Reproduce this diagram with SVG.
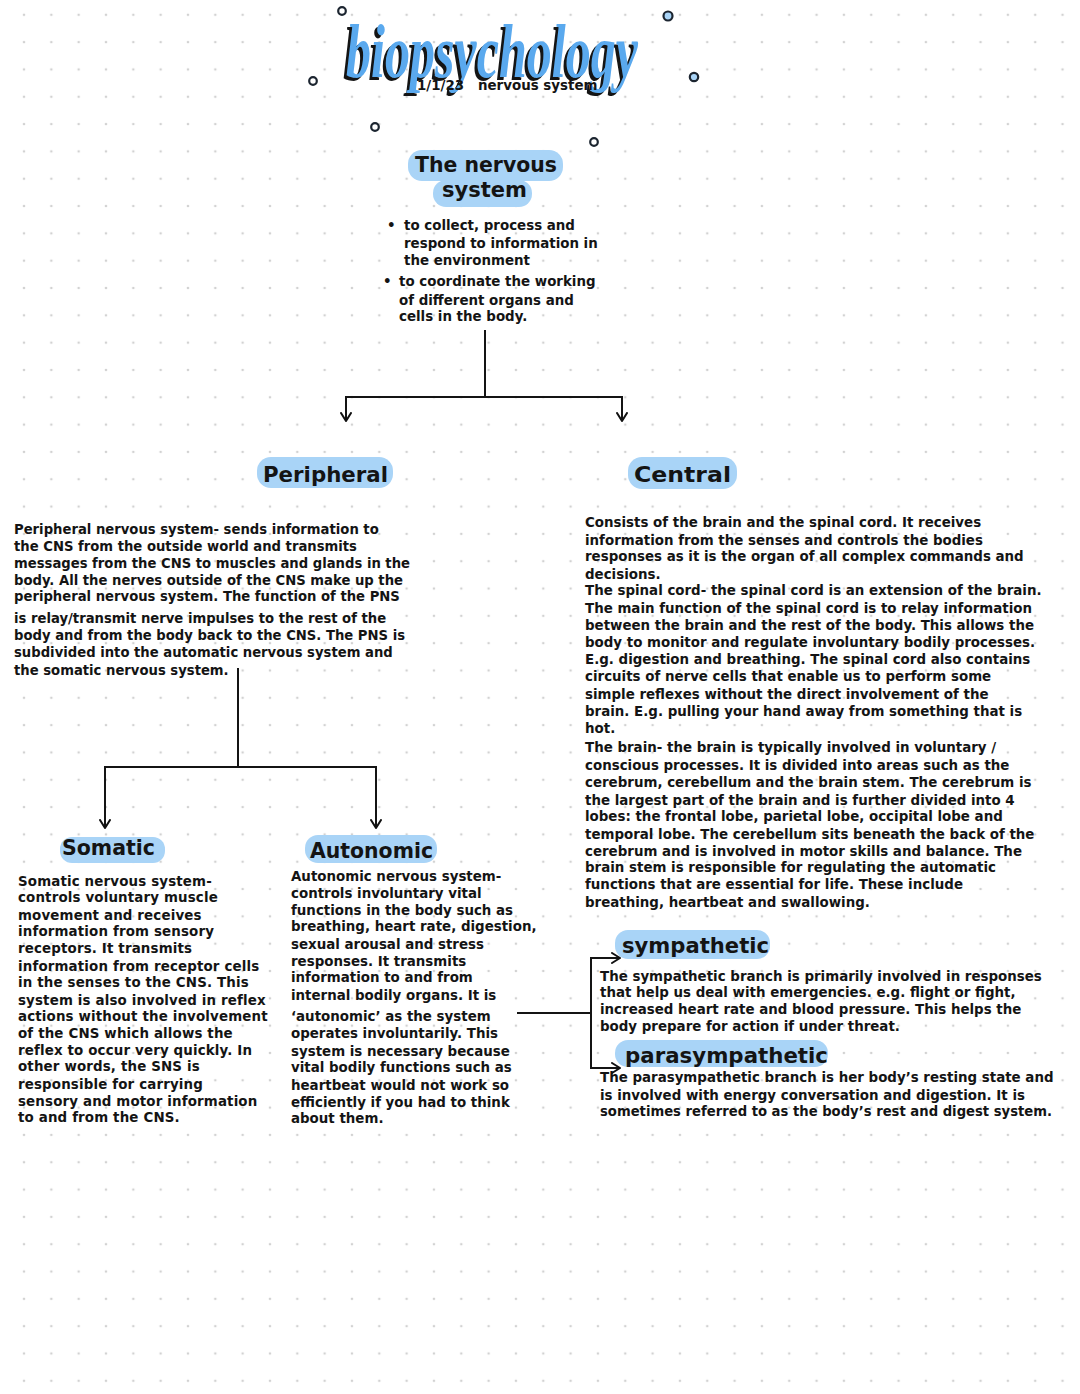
<svg xmlns="http://www.w3.org/2000/svg" width="1080" height="1394" viewBox="0 0 1080 1394">
<defs>
<pattern id="dots" patternUnits="userSpaceOnUse" x="10.34" y="1.14" width="27.33" height="27.32">
<circle cx="13.66" cy="13.66" r="1.3" fill="#d2d2d2"/>
</pattern>
<marker id="arr" viewBox="0 0 10 12" refX="9" refY="6" markerWidth="10" markerHeight="12" markerUnits="userSpaceOnUse" orient="auto">
<path d="M1,1 L9,6 L1,11" fill="none" stroke="#111" stroke-width="2" stroke-linecap="round" stroke-linejoin="round"/>
</marker>
<style>
.t{font-family:"DejaVu Sans","Liberation Sans",sans-serif;font-weight:bold;fill:#141414;font-size:13.4px}
.p{font-size:13.2px}
.s{letter-spacing:0.15px}
.h{font-size:22px}
.blob{fill:#a9d4f7}
.ln{stroke:#141414;stroke-width:2;fill:none}
.bub{stroke:#1c2530;stroke-width:2.2}
.ttl{font-family:"Liberation Serif","DejaVu Serif",serif;font-style:italic;font-weight:bold;font-size:76px}
</style>
</defs>
<rect width="1080" height="1394" fill="#ffffff"/>
<rect width="1080" height="1394" fill="url(#dots)"/>

<g id="title">
<circle class="bub" cx="342" cy="11" r="3.8" fill="#fff"/>
<circle class="bub" cx="668" cy="16" r="4.5" fill="#a9d4f7"/>
<circle class="bub" cx="313" cy="81" r="3.8" fill="#fff"/>
<circle class="bub" cx="694" cy="77" r="4.2" fill="#a9d4f7"/>
<circle class="bub" cx="375" cy="127" r="3.8" fill="#fff"/>
<circle class="bub" cx="594" cy="142" r="3.8" fill="#fff"/>
<text class="ttl" x="343" y="80" textLength="292" lengthAdjust="spacingAndGlyphs" fill="#141414">biopsychology</text>
<text class="ttl" x="346" y="77" textLength="292" lengthAdjust="spacingAndGlyphs" fill="#5aa9ee">biopsychology</text>
<text class="t" x="417" y="90" font-size="12px">1/1/23</text>
<text class="t" x="478" y="90" font-size="12px">nervous system</text>
</g>

<g id="nervous-system">
<rect class="blob" x="408" y="150" width="155" height="31" rx="14"/>
<rect class="blob" x="433" y="180" width="99" height="27" rx="13"/>
<text class="t h" x="415" y="172" textLength="142" lengthAdjust="spacingAndGlyphs">The nervous</text>
<text class="t h" x="442" y="197" textLength="85" lengthAdjust="spacingAndGlyphs">system</text>
<text class="t">
<tspan x="387" y="229.5">•</tspan>
<tspan x="404" y="229.5">to collect, process and</tspan>
<tspan x="404" y="248">respond to information in</tspan>
<tspan x="404" y="265">the environment</tspan>
<tspan x="383" y="286">•</tspan>
<tspan x="399" y="286">to coordinate the working</tspan>
<tspan x="399" y="304.5">of different organs and</tspan>
<tspan x="399" y="321">cells in the body.</tspan>
</text>
</g>

<g id="peripheral">
<rect class="blob" x="257" y="457" width="136" height="31" rx="14"/>
<text class="t h" x="263" y="482" textLength="125" lengthAdjust="spacingAndGlyphs">Peripheral</text>
<text class="t p">
<tspan x="14" y="534">Peripheral nervous system- sends information to</tspan>
<tspan x="14" y="551">the CNS from the outside world and transmits</tspan>
<tspan x="14" y="568">messages from the CNS to muscles and glands in the</tspan>
<tspan x="14" y="585">body. All the nerves outside of the CNS make up the</tspan>
<tspan x="14" y="601">peripheral nervous system. The function of the PNS</tspan>
<tspan x="14" y="623">is relay/transmit nerve impulses to the rest of the</tspan>
<tspan x="14" y="640">body and from the body back to the CNS. The PNS is</tspan>
<tspan x="14" y="657">subdivided into the automatic nervous system and</tspan>
<tspan x="14" y="675">the somatic nervous system.</tspan>
</text>
</g>

<g id="central">
<rect class="blob" x="628" y="457" width="109" height="32" rx="14"/>
<text class="t h" x="634" y="482" textLength="97" lengthAdjust="spacingAndGlyphs">Central</text>
<text class="t">
<tspan x="585" y="527">Consists of the brain and the spinal cord. It receives</tspan>
<tspan x="585" y="545">information from the senses and controls the bodies</tspan>
<tspan x="585" y="561">responses as it is the organ of all complex commands and</tspan>
<tspan x="585" y="579">decisions.</tspan>
<tspan x="585" y="595">The spinal cord- the spinal cord is an extension of the brain.</tspan>
<tspan x="585" y="613">The main function of the spinal cord is to relay information</tspan>
<tspan x="585" y="630">between the brain and the rest of the body. This allows the</tspan>
<tspan x="585" y="647">body to monitor and regulate involuntary bodily processes.</tspan>
<tspan x="585" y="664">E.g. digestion and breathing. The spinal cord also contains</tspan>
<tspan x="585" y="681">circuits of nerve cells that enable us to perform some</tspan>
<tspan x="585" y="699">simple reflexes without the direct involvement of the</tspan>
<tspan x="585" y="716">brain. E.g. pulling your hand away from something that is</tspan>
<tspan x="585" y="733">hot.</tspan>
<tspan x="585" y="752">The brain- the brain is typically involved in voluntary /</tspan>
<tspan x="585" y="770">conscious processes. It is divided into areas such as the</tspan>
<tspan x="585" y="787">cerebrum, cerebellum and the brain stem. The cerebrum is</tspan>
<tspan x="585" y="805">the largest part of the brain and is further divided into 4</tspan>
<tspan x="585" y="821">lobes: the frontal lobe, parietal lobe, occipital lobe and</tspan>
<tspan x="585" y="839">temporal lobe. The cerebellum sits beneath the back of the</tspan>
<tspan x="585" y="856">cerebrum and is involved in motor skills and balance. The</tspan>
<tspan x="585" y="872">brain stem is responsible for regulating the automatic</tspan>
<tspan x="585" y="889">functions that are essential for life. These include</tspan>
<tspan x="585" y="907">breathing, heartbeat and swallowing.</tspan>
</text>
</g>

<g id="somatic">
<rect class="blob" x="60" y="837" width="105" height="26" rx="12"/>
<text class="t h" x="62" y="855" textLength="93" lengthAdjust="spacingAndGlyphs">Somatic</text>
<text class="t s">
<tspan x="18" y="886">Somatic nervous system-</tspan>
<tspan x="18" y="902">controls voluntary muscle</tspan>
<tspan x="18" y="920">movement and receives</tspan>
<tspan x="18" y="936">information from sensory</tspan>
<tspan x="18" y="953">receptors. It transmits</tspan>
<tspan x="18" y="971">information from receptor cells</tspan>
<tspan x="18" y="987">in the senses to the CNS. This</tspan>
<tspan x="18" y="1005">system is also involved in reflex</tspan>
<tspan x="18" y="1021">actions without the involvement</tspan>
<tspan x="18" y="1038">of the CNS which allows the</tspan>
<tspan x="18" y="1055">reflex to occur very quickly. In</tspan>
<tspan x="18" y="1071">other words, the SNS is</tspan>
<tspan x="18" y="1089">responsible for carrying</tspan>
<tspan x="18" y="1106">sensory and motor information</tspan>
<tspan x="18" y="1122">to and from the CNS.</tspan>
</text>
</g>

<g id="autonomic">
<rect class="blob" x="305" y="835" width="132" height="28" rx="13"/>
<text class="t h" x="310" y="858" textLength="123" lengthAdjust="spacingAndGlyphs">Autonomic</text>
<text class="t">
<tspan x="291" y="881">Autonomic nervous system-</tspan>
<tspan x="291" y="898">controls involuntary vital</tspan>
<tspan x="291" y="915">functions in the body such as</tspan>
<tspan x="291" y="931">breathing, heart rate, digestion,</tspan>
<tspan x="291" y="949">sexual arousal  and stress</tspan>
<tspan x="291" y="966">responses. It transmits</tspan>
<tspan x="291" y="982">information to and from</tspan>
<tspan x="291" y="1000">internal bodily organs. It is</tspan>
<tspan x="291" y="1021">‘autonomic’ as the system</tspan>
<tspan x="291" y="1038">operates involuntarily. This</tspan>
<tspan x="291" y="1056">system is necessary because</tspan>
<tspan x="291" y="1072">vital bodily functions such as</tspan>
<tspan x="291" y="1090">heartbeat would not work so</tspan>
<tspan x="291" y="1107">efficiently if you had to think</tspan>
<tspan x="291" y="1123">about them.</tspan>
</text>
</g>

<g id="sympathetic">
<rect class="blob" x="615" y="930" width="155" height="29" rx="13"/>
<text class="t h" x="622" y="953" textLength="147" lengthAdjust="spacingAndGlyphs">sympathetic</text>
<text class="t">
<tspan x="600" y="981">The sympathetic branch is primarily involved in responses</tspan>
<tspan x="600" y="997">that help us deal with emergencies. e.g. flight or fight,</tspan>
<tspan x="600" y="1014">increased heart rate and blood pressure. This helps the</tspan>
<tspan x="600" y="1031">body prepare for action if under threat.</tspan>
</text>
</g>

<g id="parasympathetic">
<rect class="blob" x="615" y="1040" width="213" height="27" rx="13"/>
<text class="t h" x="625" y="1063" textLength="203" lengthAdjust="spacingAndGlyphs">parasympathetic</text>
<text class="t">
<tspan x="600" y="1082">The parasympathetic branch is her body’s resting state and</tspan>
<tspan x="600" y="1100">is involved with energy conversation and digestion. It is</tspan>
<tspan x="600" y="1116" font-size="13.2px">sometimes referred to as the body’s rest and digest system.</tspan>
</text>
</g>

<g id="connectors">
<path class="ln" d="M485,330 V397"/>
<path class="ln" d="M485,397 H346 V421" marker-end="url(#arr)"/>
<path class="ln" d="M485,397 H622 V421" marker-end="url(#arr)"/>
<path class="ln" d="M238,668 V767"/>
<path class="ln" d="M238,767 H105 V828" marker-end="url(#arr)"/>
<path class="ln" d="M238,767 H376 V828" marker-end="url(#arr)"/>
<path class="ln" d="M517,1013 H591"/>
<path class="ln" d="M591,1013 V958 H620" marker-end="url(#arr)"/>
<path class="ln" d="M591,1013 V1068 H620" marker-end="url(#arr)"/>
</g>
</svg>
